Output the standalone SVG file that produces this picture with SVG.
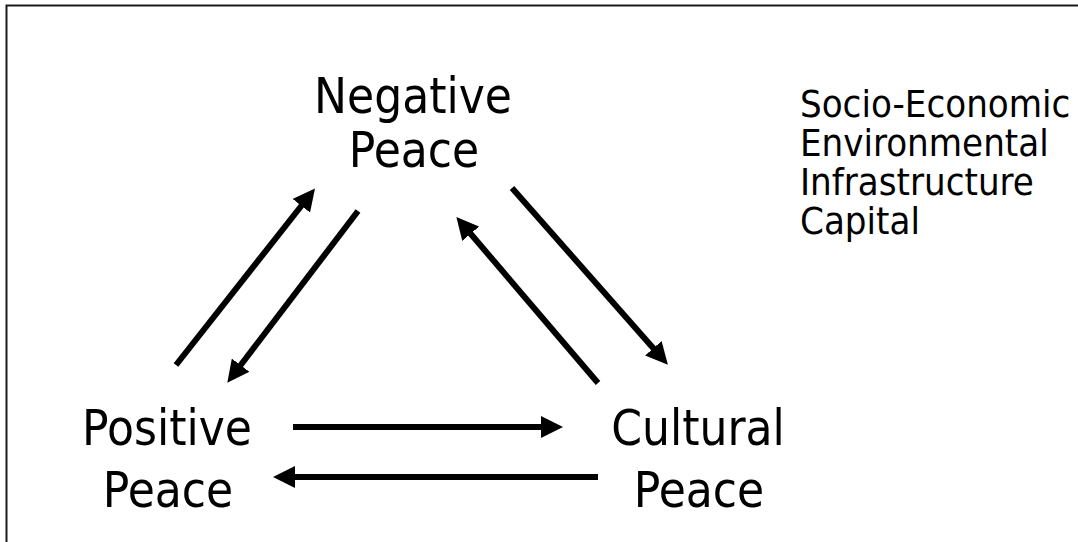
<svg xmlns="http://www.w3.org/2000/svg" width="1078" height="542" viewBox="0 0 1078 542">
<style>
text{font-family:"DejaVu Sans Condensed","DejaVu Sans",sans-serif;fill:#000}
.big{font-size:49px;text-anchor:middle}
.list{font-size:38px}
.arr{stroke:#000;stroke-width:6;fill:none;marker-end:url(#ah)}
</style>
<defs>
<marker id="ah" markerUnits="userSpaceOnUse" markerWidth="22" markerHeight="22" viewBox="0 0 22 22" refX="1" refY="11" orient="auto">
<path d="M0,0 L22,11 L0,22 z" fill="#000"/>
</marker>
</defs>
<rect width="1078" height="542" fill="#fff"/>
<path d="M6.5,542 V5.5 H1078" stroke="#1a1a1a" stroke-width="2" fill="none"/>
<g id="negative-peace"><text class="big" x="413" y="113">Negative</text><text class="big" x="414" y="167">Peace</text></g>
<g id="positive-peace"><text class="big" x="167" y="445">Positive</text><text class="big" x="168" y="507">Peace</text></g>
<g id="cultural-peace"><text class="big" x="698" y="445">Cultural</text><text class="big" x="699" y="507">Peace</text></g>
<g id="factors"><text class="list" x="800" y="117">Socio-Economic</text><text class="list" x="800" y="156">Environmental</text><text class="list" x="800" y="195">Infrastructure</text><text class="list" x="800" y="234">Capital</text></g>
<g id="connectors">
<line class="arr" x1="176" y1="365" x2="302" y2="205"/>
<line class="arr" x1="358" y1="211" x2="240" y2="366"/>
<line class="arr" x1="512" y1="188" x2="654" y2="349"/>
<line class="arr" x1="598" y1="383" x2="470" y2="233"/>
<line class="arr" x1="293" y1="427" x2="542" y2="427"/>
<line class="arr" x1="598" y1="477" x2="294" y2="477"/>
</g>
</svg>
